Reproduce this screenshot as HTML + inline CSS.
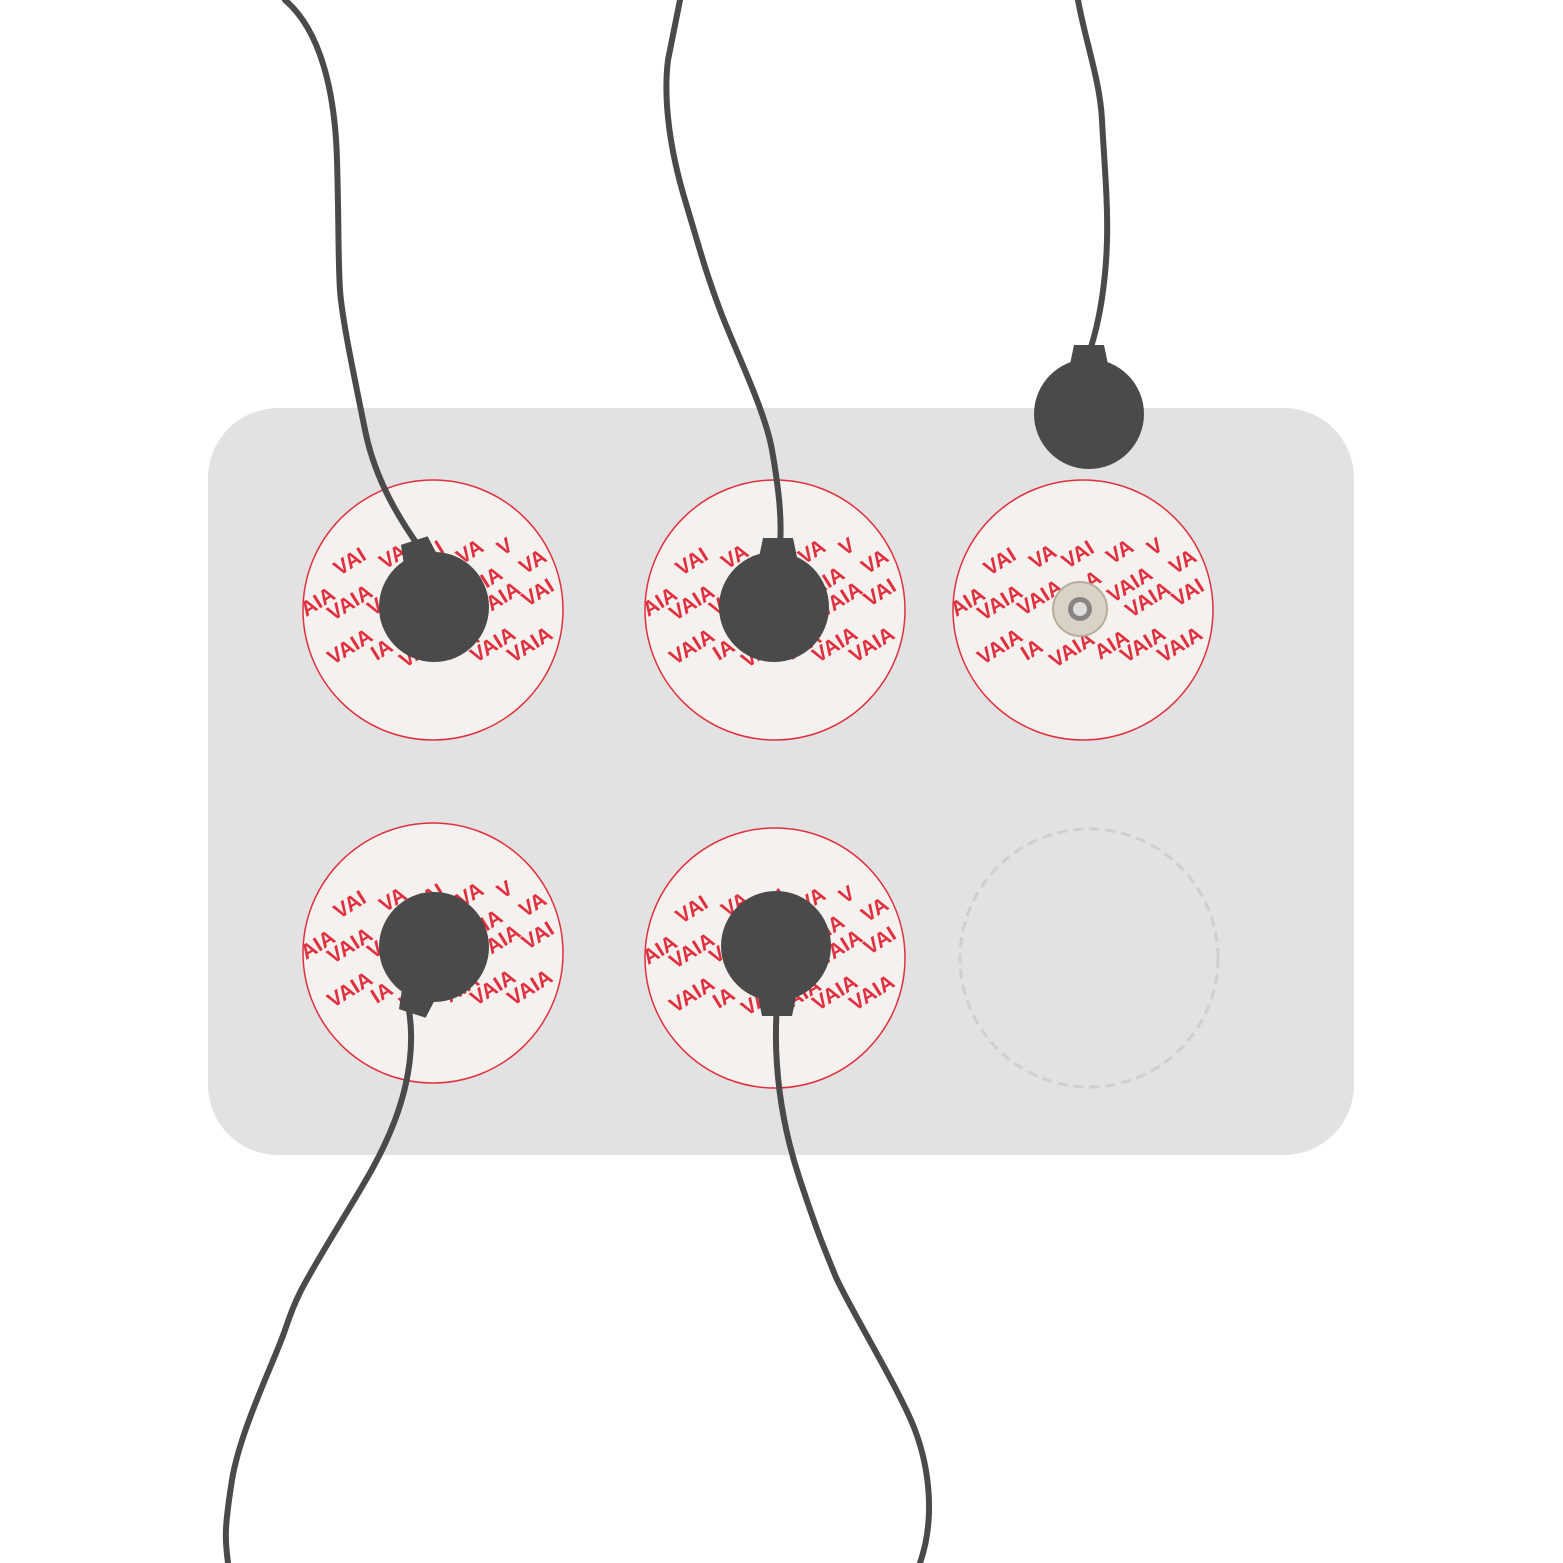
<!DOCTYPE html>
<html><head><meta charset="utf-8"><style>
html,body{margin:0;padding:0;background:#fff;}
svg{display:block;}
.pt{font-family:"Liberation Sans",sans-serif;font-weight:bold;font-size:21px;fill:#e0303f;}
</style></head><body>
<svg id="s" width="1563" height="1563" viewBox="0 0 1563 1563" xmlns="http://www.w3.org/2000/svg">
<rect x="208" y="408" width="1146" height="747" rx="70" fill="#e2e2e2"/>
<circle cx="1089" cy="958" r="129" fill="none" stroke="#cfcfcf" stroke-width="3" stroke-dasharray="10,6"/>
<g id="pads"></g>
<g id="snap">
<circle cx="1080" cy="609" r="27" fill="#d9d2c6" stroke="#b9ae9c" stroke-width="2"/>
<circle cx="1080" cy="609" r="12" fill="#8a8580"/>
<circle cx="1080" cy="609" r="7" fill="#ddd"/>
</g>
<g fill="none" stroke="#4a4a4a" stroke-width="6" stroke-linecap="round">
<path d="M285,0 C320,30 335,90 337,160 S338,260 340,290 S355,380 365,430 S400,520 420,548"/>
<path d="M680,0 L668,60 C663,100 670,150 685,200 S705,270 720,310 S765,410 772,450 S782,520 780,545"/>
<path d="M1078,0 C1085,40 1100,80 1102,120 S1108,200 1107,240 S1100,320 1090,350"/>
<path d="M408,1005 C415,1040 410,1080 395,1120 S360,1190 330,1240 S295,1300 285,1330 S240,1430 232,1480 S225,1540 228,1563"/>
<path d="M777,1005 C773,1060 780,1120 800,1180 S825,1250 835,1275 S900,1390 915,1430 S935,1520 920,1563"/>
</g>
<g fill="#4a4a4a" id="conns">
<g><circle cx="434" cy="607" r="55"/><path d="M-18,12 L-14,-12 L14,-12 L18,12 Z" transform="translate(418,552) rotate(-18)"/></g>
<g><circle cx="774" cy="607" r="55"/><path d="M-20,12 L-15,-12 L15,-12 L20,12 Z" transform="translate(778,550)"/></g>
<g><circle cx="1089" cy="414" r="55"/><path d="M-20,12 L-15,-12 L15,-12 L20,12 Z" transform="translate(1089,357)"/></g>
<g><circle cx="434" cy="947" r="55"/><path d="M-18,-12 L-14,12 L14,12 L18,-12 Z" transform="translate(416,1002) rotate(18)"/></g>
<g><circle cx="776" cy="946" r="55"/><path d="M-20,-12 L-15,12 L15,12 L20,-12 Z" transform="translate(777,1004)"/></g>
</g>
</svg>
<script>
const padX=[433,775,1083,433,775];
const padY=[610,610,610,953,958];
const words=["AIA","VAI","VA","VAI","VA","V","VA","VAIA","VAIA","A","VAIA","VAIA","VAI","VAIA","IA","VAIA","AIA","VAIA","VAIA"];
const wx=[-115,-83,-40,-5,37,72,100,-83,-43,10,47,65,105,-83,-51,-11,29,60,97];
const wy=[-8,-48,-53,-55,-58,-63,-48,-7,-12,-30,-25,-10,-17,37,40,40,35,35,35];
const NS="http://www.w3.org/2000/svg";
const g=document.getElementById('pads');
for(let i=0;i<padX.length;i++){
  const pg=document.createElementNS(NS,'g');
  
  
  const c=document.createElementNS(NS,'circle');
  c.setAttribute('cx',padX[i]);c.setAttribute('cy',padY[i]);c.setAttribute('r',130);
  c.setAttribute('fill','#f5f1ee');c.setAttribute('stroke','#e0303f');c.setAttribute('stroke-width','1.5');
  pg.appendChild(c);
  for(let j=0;j<words.length;j++){
    const t=document.createElementNS(NS,'text');
    
    
    const x=padX[i]+wx[j],y=padY[i]+wy[j];
    t.setAttribute('class','pt');
    t.setAttribute('text-anchor','middle');
    t.setAttribute('dominant-baseline','central');
    t.setAttribute('transform','translate('+x+','+y+') rotate(-32)');
    t.textContent=words[j];
    pg.appendChild(t);
  }
  g.appendChild(pg);
}
</script>
</body></html>
